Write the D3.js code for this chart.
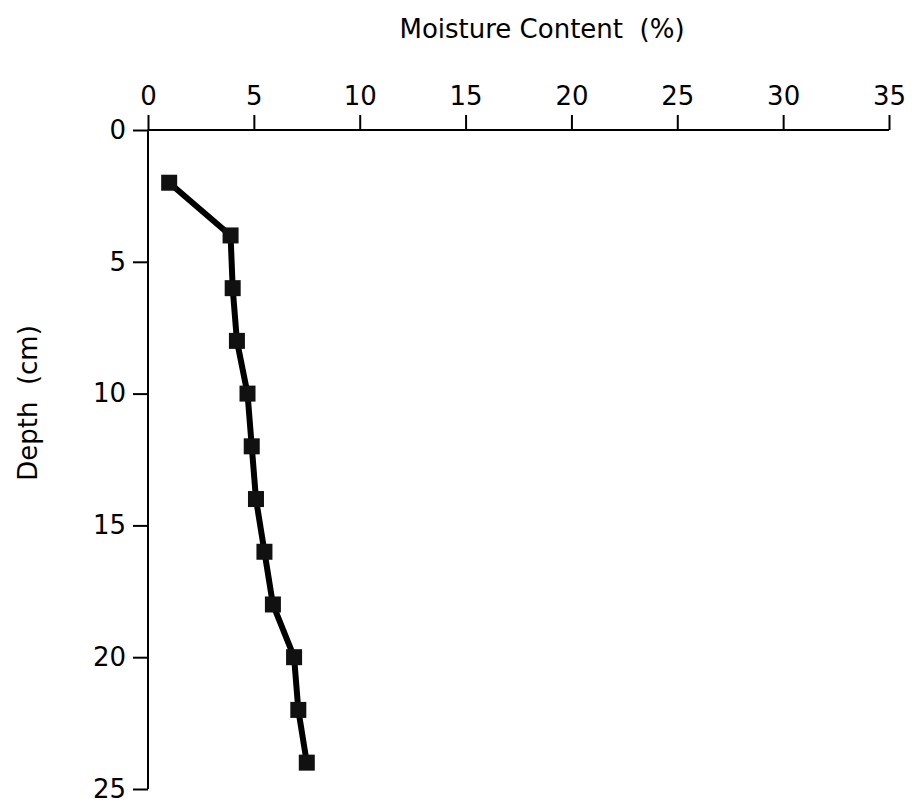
<!DOCTYPE html>
<html>
<head>
<meta charset="utf-8">
<script src="https://cdn.jsdelivr.net/npm/d3@7"></script>
<style>
  html, body { margin: 0; padding: 0; background: #fff; }
  svg { display: block; }
  .axis path, .axis line { stroke: #000; stroke-width: 2px; }
  .axis text { font-family: "DejaVu Sans", sans-serif; font-size: 26px; fill: #000; }
  .title { font-family: "DejaVu Sans", sans-serif; font-size: 26px; fill: #000; }
</style>
</head>
<body>
<svg id="chart" width="913" height="807"></svg>
<script>
// Soil moisture profile: moisture content (%) against depth (cm)
const depths   = [2, 4, 6, 8, 10, 12, 14, 16, 18, 20, 22, 24];
const moisture = [1.0, 3.9, 4.0, 4.2, 4.7, 4.9, 5.1, 5.5, 5.9, 6.9, 7.1, 7.5];
const xTicks = [0, 5, 10, 15, 20, 25, 30, 35];
const yTicks = [0, 5, 10, 15, 20, 25];

const svg = d3.select("#chart");

const x = d3.scaleLinear().domain([0, 35]).range([148, 889]);
const y = d3.scaleLinear().domain([0, 25]).range([130, 789]);

// Moisture axis along the top
svg.append("g")
  .attr("class", "axis")
  .attr("transform", `translate(0,${y(0)})`)
  .call(d3.axisTop(x).tickValues(xTicks).tickSize(15).tickSizeOuter(0).tickPadding(10))
  .call(g => g.select(".domain").attr("d", `M${x(0)},0H${x(35)}`));

// Depth axis down the left side
svg.append("g")
  .attr("class", "axis")
  .attr("transform", `translate(${x(0)},0)`)
  .call(d3.axisLeft(y).tickValues(yTicks).tickSize(15).tickSizeOuter(0).tickPadding(7))
  .call(g => g.select(".domain").attr("d", `M0,${y(0)}V${y(25)}`));

// Axis titles
svg.append("text")
  .attr("class", "title")
  .attr("x", 542).attr("y", 38)
  .attr("text-anchor", "middle")
  .attr("xml:space", "preserve")
  .text("Moisture Content  (%)");

svg.append("text")
  .attr("class", "title")
  .attr("transform", "translate(37,403) rotate(-90)")
  .attr("text-anchor", "middle")
  .attr("xml:space", "preserve")
  .text("Depth  (cm)");

const pts = depths.map((d, i) => ({ depth: d, m: moisture[i] }));

// Profile line
svg.append("path")
  .datum(pts)
  .attr("fill", "none")
  .attr("stroke", "#000")
  .attr("stroke-width", 6)
  .attr("stroke-linejoin", "round")
  .attr("d", d3.line().x(d => x(d.m)).y(d => y(d.depth)));

// Square markers
const s = 16;
svg.append("g")
  .selectAll("rect")
  .data(pts)
  .join("rect")
  .attr("x", d => x(d.m) - s / 2)
  .attr("y", d => y(d.depth) - s / 2)
  .attr("width", s)
  .attr("height", s)
  .attr("fill", "#111");
</script>
</body>
</html>
